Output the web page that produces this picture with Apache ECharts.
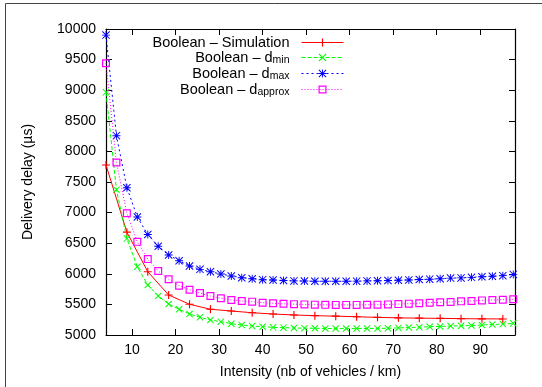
<!DOCTYPE html>
<html>
<head>
<meta charset="utf-8">
<script src="https://cdn.jsdelivr.net/npm/echarts@6/dist/echarts.min.js"></script>
<style>
html,body{margin:0;padding:0;background:#fff;}
#chart{width:542px;height:387px;}
</style>
</head>
<body>
<div id="chart"></div>
<script>
// ---- data ----
const xFine = [4, 6.4, 8.8, 11.2, 13.6, 16, 18.4, 20.8, 23.2, 25.6, 28, 30.4, 32.8, 35.2, 37.6, 40, 42.4, 44.8, 47.2, 49.6,
  52, 54.4, 56.8, 59.2, 61.6, 64, 66.4, 68.8, 71.2, 73.6, 76, 78.4, 80.8, 83.2, 85.6, 88, 90.4, 92.8, 95.2, 97.6];
const xSim = [4, 8.8, 13.6, 18.4, 23.2, 28, 32.8, 37.6, 42.4, 47.2, 52, 56.8, 61.6, 66.4, 71.2, 76, 80.8, 85.6, 90.4, 95.2];
const simValues = [7778, 6680, 6034, 5654, 5502, 5420, 5392, 5364, 5343, 5327, 5316, 5308, 5298, 5288, 5280, 5275, 5272, 5267, 5264, 5262];
const dminValues = [8965, 7375, 6575, 6116, 5817, 5637, 5506, 5420, 5343, 5290, 5245, 5218, 5185, 5163, 5147, 5136, 5125, 5120, 5114, 5112,
  5110, 5107, 5105, 5105, 5105, 5106, 5108, 5110, 5116, 5122, 5128, 5136, 5140, 5147, 5150, 5156, 5163, 5172, 5178, 5190];
const dmaxValues = [9900, 8257, 7407, 6928, 6642, 6450, 6307, 6214, 6127, 6073, 6034, 5997, 5964, 5936, 5920, 5904, 5899, 5890, 5884, 5882,
  5878, 5878, 5878, 5878, 5880, 5884, 5886, 5890, 5895, 5900, 5906, 5912, 5920, 5930, 5933, 5942, 5952, 5960, 5970, 5990];
const dapproxValues = [9440, 7818, 6990, 6522, 6240, 6046, 5910, 5806, 5740, 5686, 5637, 5600, 5572, 5556, 5545, 5528, 5518, 5510, 5504, 5500,
  5496, 5493, 5492, 5492, 5492, 5494, 5496, 5500, 5505, 5512, 5520, 5528, 5534, 5540, 5550, 5556, 5565, 5572, 5577, 5583];
const seriesNames = ['Boolean – Simulation', 'Boolean – dmin', 'Boolean – dmax', 'Boolean – dapprox'];
const legendLabels = ['{n|Boolean – Simulation}', '{n|Boolean – d}{s|min}', '{n|Boolean – d}{s|max}', '{n|Boolean – d}{s|approx}'];
const xTicks = [10, 20, 30, 40, 50, 60, 70, 80, 90];
const xName = 'Intensity (nb of vehicles / km)';
const yName = 'Delivery delay (µs)';

function pairs(xs, ys) { return xs.map((x, i) => [x, ys[i]]); }

const FONT = 'Liberation Sans';
const plusSym = 'path://M3,0h1v7h-1z M0,3h7v1h-7z';
const xSym = 'path://M0,0.7L0.7,0L7,6.3L6.3,7Z M6.3,0L7,0.7L0.7,7L0,6.3Z';
const starSym = 'path://M3.1,0h0.8v7h-0.8z M0,3.1h7v0.8h-7z M0,0.6L0.6,0L7,6.4L6.4,7Z M6.4,0L7,0.6L0.6,7L0,6.4Z';
const sqSym = 'path://M0,0h8v8h-8z M1.2,1.2v5.6h5.6v-5.6z';

const chart = echarts.init(document.getElementById('chart'), null, {renderer: 'canvas'});
const axisLineStyle = {color: '#000', width: 1.2};
chart.setOption({
  animation: false,
  backgroundColor: '#fff',
  textStyle: {fontFamily: FONT},
  graphic: [{
    type: 'rect', silent: true, z: 0,
    shape: {x: 5.5, y: 3.5, width: 700, height: 700},
    style: {fill: 'none', stroke: '#444', lineWidth: 1}
  }],
  grid: {left: 106, top: 29, right: 27, bottom: 52},
  legend: {
    orient: 'vertical', align: 'right',
    right: 193, top: 30,
    itemWidth: 42, itemHeight: 10, itemGap: 0,
    lineStyle: {width: 1},
    data: seriesNames,
    formatter: name => legendLabels[seriesNames.indexOf(name)],
    textStyle: {
      fontFamily: FONT, fontSize: 14.5, color: '#000', padding: [0, 7, 0, 0],
      rich: {
        n: {fontFamily: FONT, fontSize: 14.5, color: '#000', lineHeight: 15, verticalAlign: 'top'},
        s: {fontFamily: FONT, fontSize: 10.5, color: '#000', lineHeight: 10, verticalAlign: 'top', padding: [5, 0, 0, 0]}
      }
    }
  },
  xAxis: [{
    type: 'value', min: 4, max: 98, position: 'bottom',
    name: xName, nameLocation: 'middle', nameGap: 30,
    nameTextStyle: {fontFamily: FONT, fontSize: 14, color: '#000'},
    axisLine: {show: true, lineStyle: axisLineStyle},
    axisTick: {show: true, inside: true, length: 6, customValues: xTicks, lineStyle: {color: '#000'}},
    axisLabel: {customValues: xTicks, fontFamily: FONT, fontSize: 14, color: '#000', margin: 8},
    splitLine: {show: false}
  }, {
    type: 'value', min: 4, max: 98, position: 'top',
    axisLine: {show: true, lineStyle: axisLineStyle},
    axisTick: {show: true, inside: true, length: 6, customValues: xTicks, lineStyle: {color: '#000'}},
    axisLabel: {show: false},
    splitLine: {show: false}
  }],
  yAxis: [{
    type: 'value', min: 5000, max: 10000, interval: 500, position: 'left',
    name: yName, nameLocation: 'middle', nameGap: 71,
    nameTextStyle: {fontFamily: FONT, fontSize: 14, color: '#000'},
    axisLine: {show: true, lineStyle: axisLineStyle},
    axisTick: {show: true, inside: true, length: 6, lineStyle: {color: '#000'}},
    axisLabel: {fontFamily: FONT, fontSize: 14, color: '#000', margin: 10, formatter: v => String(v)},
    splitLine: {show: false}
  }, {
    type: 'value', min: 5000, max: 10000, interval: 500, position: 'right',
    axisLine: {show: true, lineStyle: axisLineStyle},
    axisTick: {show: true, inside: true, length: 6, lineStyle: {color: '#000'}},
    axisLabel: {show: false},
    splitLine: {show: false}
  }],
  series: [{
    name: seriesNames[0], type: 'line', data: pairs(xSim, simValues),
    symbol: plusSym, symbolSize: 8,
    itemStyle: {color: '#ff0000'}, lineStyle: {color: '#ff0000', width: 1}, z: 2
  }, {
    name: seriesNames[1], type: 'line', data: pairs(xFine, dminValues),
    symbol: xSym, symbolSize: 7,
    itemStyle: {color: '#00ff00'}, lineStyle: {color: '#00ff00', width: 1, type: [4, 2]}, z: 3
  }, {
    name: seriesNames[2], type: 'line', data: pairs(xFine, dmaxValues),
    symbol: starSym, symbolSize: 8,
    itemStyle: {color: '#0000ff'}, lineStyle: {color: '#0000ff', width: 1, type: [2, 3]}, z: 4
  }, {
    name: seriesNames[3], type: 'line', data: pairs(xFine, dapproxValues),
    symbol: sqSym, symbolSize: 8,
    itemStyle: {color: '#ff00ff'}, lineStyle: {color: '#ff00ff', width: 1, type: [1, 2]}, z: 5
  }]
});
</script>
</body>
</html>
